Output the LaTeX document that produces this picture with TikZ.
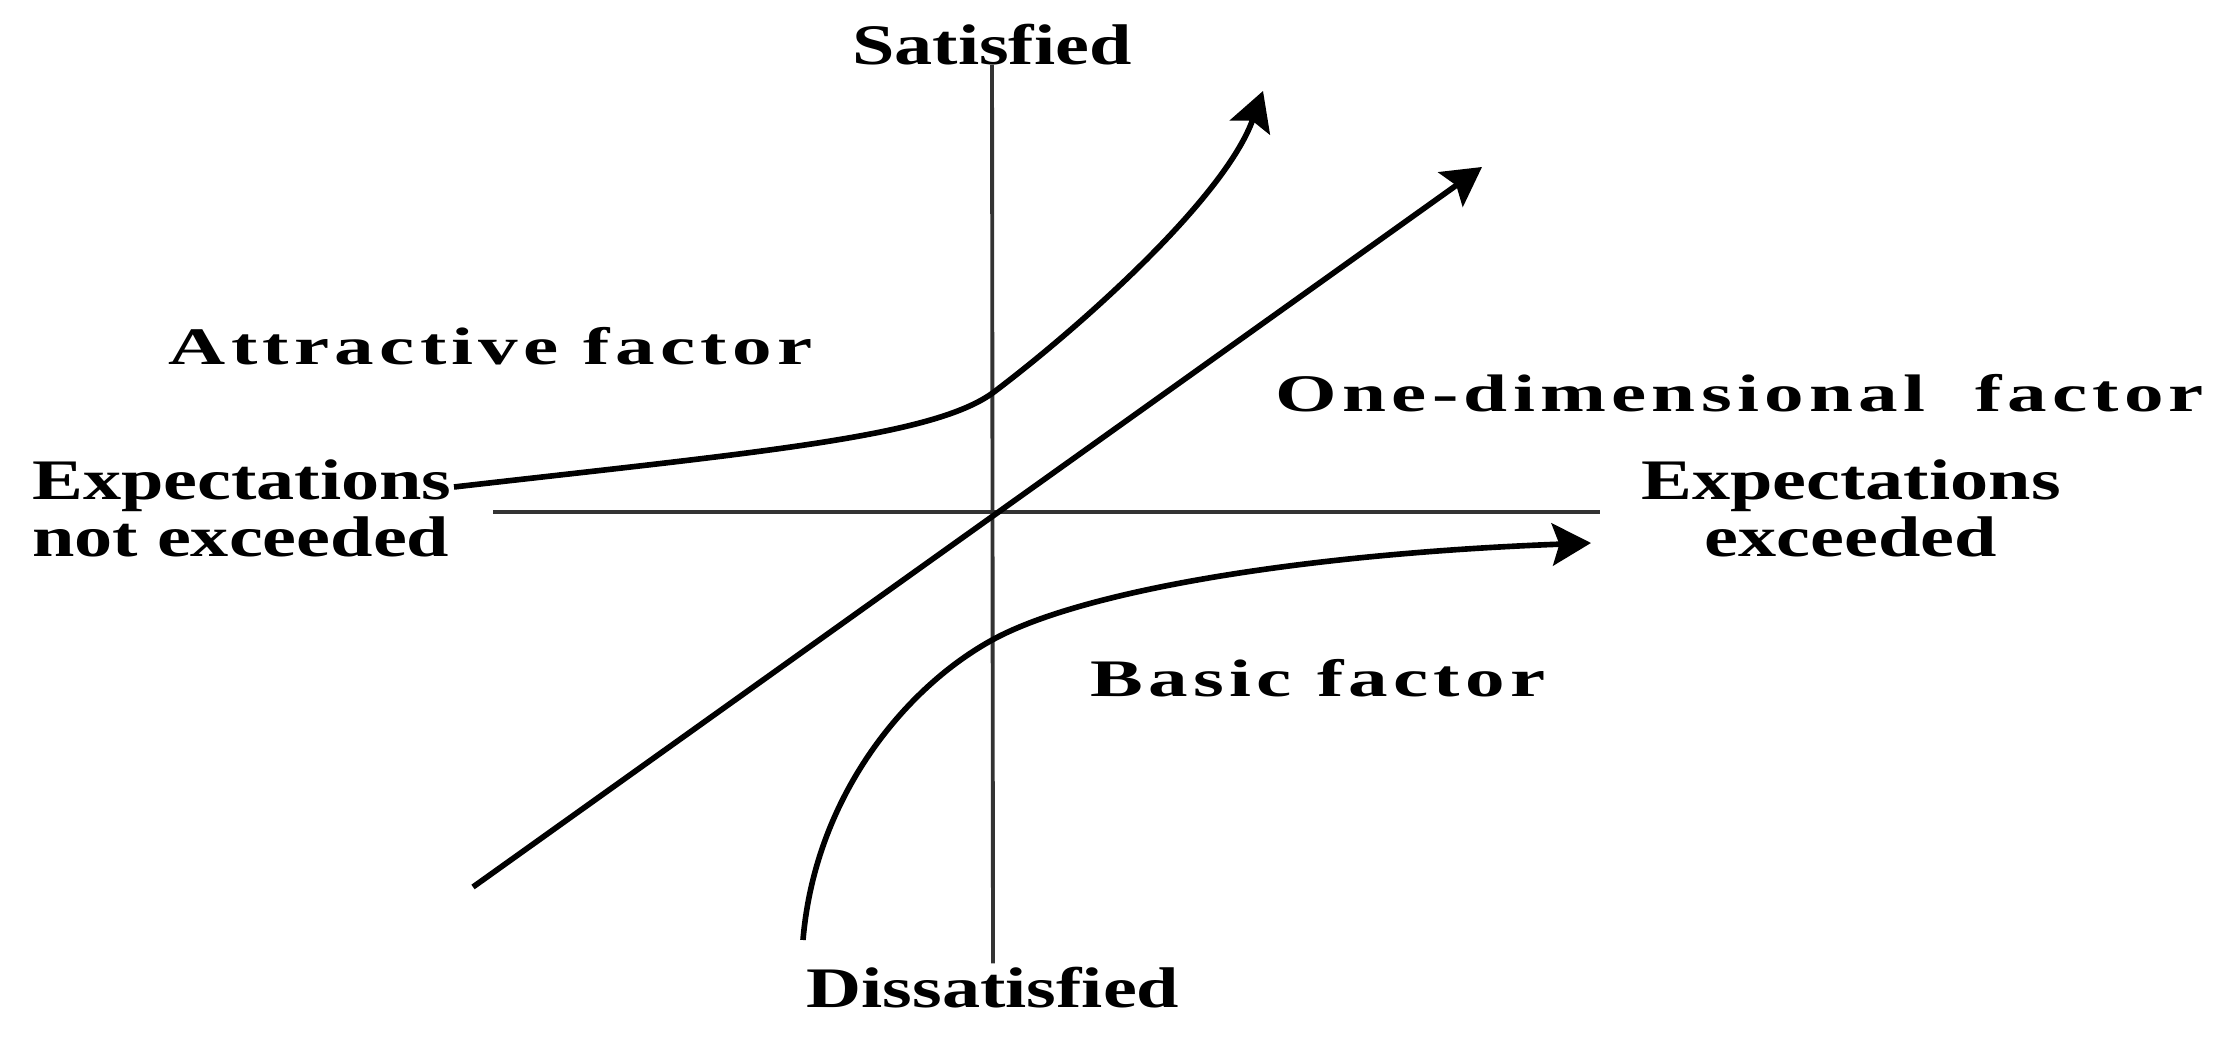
\documentclass[tikz,border=0pt]{standalone}
\usepackage{fontspec}
\usepackage{tikz}
\usetikzlibrary{arrows.meta}
\newfontfamily\kanofont[FakeStretch=1.33]{Liberation Serif}
\newfontfamily\kanowide[FakeStretch=1.5]{Liberation Serif}

\begin{document}
\begin{tikzpicture}[
    x=0.01cm, y=0.01cm,
    axis/.style={line width=1.1pt, black!80},
    curve/.style={line width=1.6pt, -{Stealth[length=11pt, width=12pt, inset=2pt]}},
    lbl/.style={inner sep=1pt, font=\kanofont\bfseries\fontsize{16.3}{16.3}\selectfont},
    factor/.style={inner sep=0pt, anchor=base west, font=\kanowide\bfseries\fontsize{15}{17}\selectfont\addfontfeature{LetterSpace=10}}
]
    \useasboundingbox (0,0) rectangle (2219,1037);

    % axis labels
    \node[lbl, anchor=base] (sat) at (992,972) {Satisfied};
    \node[lbl, anchor=base] (dis) at (993,29) {Dissatisfied};
    \node[lbl, anchor=base west, align=left] (notexc) at (28,480) {Expectations\\not exceeded};
    \node[lbl, anchor=base, align=center] (exc) at (1851,480) {Expectations\\exceeded};

    % factor labels
    \node[factor] (attr) at (168,672) {Attractive factor};
    \node[factor] (onedim) at (1275,625) {One-dimensional\ \ factor};
    \node[factor] (basic) at (1090,340) {Basic factor};

    % axes
    \coordinate (hl) at (493,525);
    \coordinate (hr) at (1600,525);
    \draw[axis] (hl) -- (hr);
    \draw[axis] (sat.base) -- (dis.north);

    % one-dimensional
    \coordinate (d0) at (473,150);
    \coordinate (d1) at (1482,870);
    \draw[curve] (d0) -- (d1);

    % attractive
    \coordinate (a0) at (454,550);
    \coordinate (a1) at (994,645);
    \coordinate (a2) at (1263,946);
    \draw[curve] (a0) .. controls (760,585) and (934,600) .. (a1)
        .. controls (1084,713) and (1225,840) .. (a2);

    % basic
    \coordinate (b0) at (803,97);
    \coordinate (b1) at (994,398);
    \coordinate (b2) at (1591,494);
    \draw[curve] (b0) .. controls (815,240) and (905,350) .. (b1)
        .. controls (1083,446) and (1300,483) .. (b2);
\end{tikzpicture}
\end{document}
